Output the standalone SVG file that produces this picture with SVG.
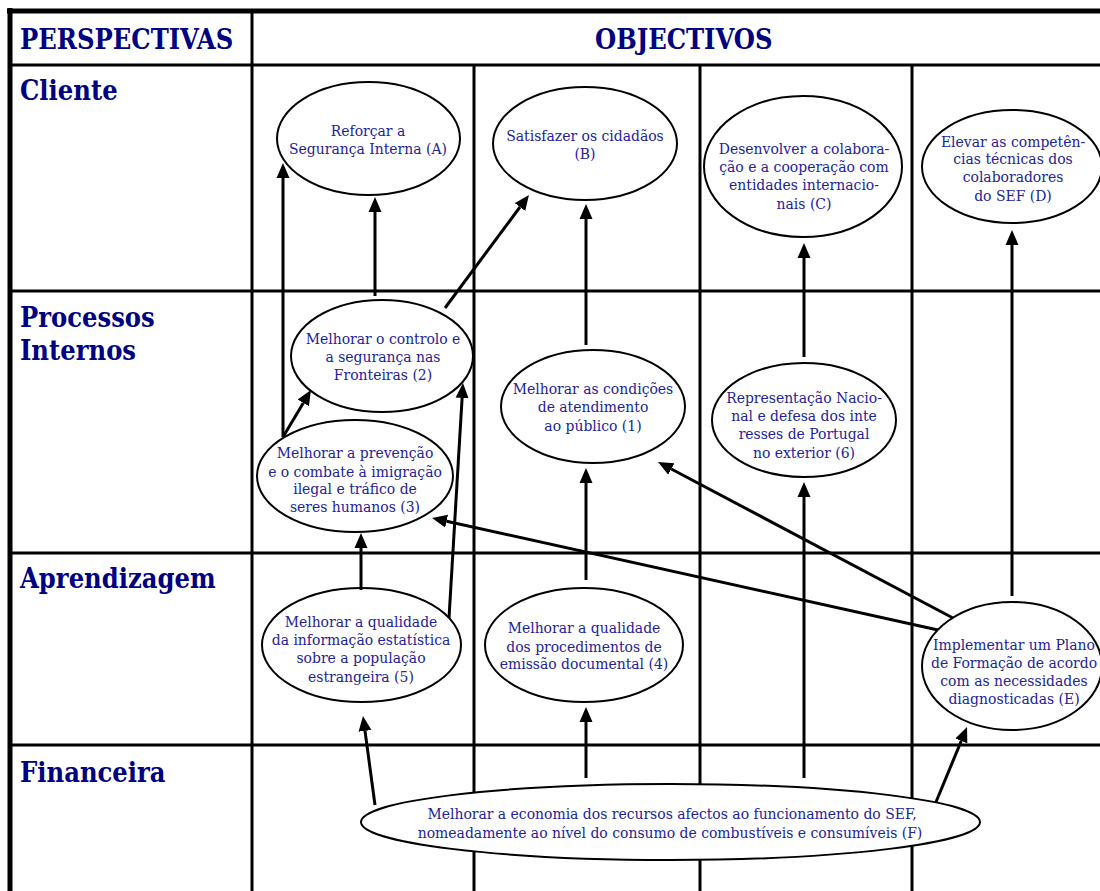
<svg xmlns="http://www.w3.org/2000/svg" width="1100" height="891" viewBox="0 0 1100 891">
<style>
.grid{stroke:#000;stroke-width:3;fill:none}
.border{stroke:#000;stroke-width:5;fill:none}
.node ellipse{fill:#fff;stroke:#000;stroke-width:2}
.node text{font-family:"DejaVu Serif Condensed","DejaVu Serif",serif;font-stretch:condensed;font-size:15.5px;fill:#22229a;text-anchor:middle}
.hd{font-family:"DejaVu Serif Condensed","DejaVu Serif",serif;font-stretch:condensed;font-weight:bold;font-size:27px;fill:#000080}
.conn line{stroke:#000;stroke-width:3;marker-end:url(#ah)}
</style>
<defs>
<marker id="ah" viewBox="0 -7 15 14" markerWidth="15" markerHeight="14" refX="0" refY="0" orient="auto" markerUnits="userSpaceOnUse">
<path d="M0,-6.5 L15,0 L0,6.5 z" fill="#000"/>
</marker>
</defs>
<rect width="1100" height="891" fill="#fff"/>
<g id="grid">
<line class="border" x1="7" y1="11" x2="1100" y2="11"/>
<line class="border" x1="10" y1="8" x2="10" y2="891"/>
<line class="grid" x1="10" y1="65" x2="1100" y2="65"/>
<line class="grid" x1="10" y1="291" x2="1100" y2="291"/>
<line class="grid" x1="10" y1="553" x2="1100" y2="553"/>
<line class="grid" x1="10" y1="745" x2="1100" y2="745"/>
<line class="grid" x1="252" y1="11" x2="252" y2="891"/>
<line class="grid" x1="474" y1="65" x2="474" y2="891"/>
<line class="grid" x1="700" y1="65" x2="700" y2="891"/>
<line class="grid" x1="912" y1="65" x2="912" y2="891"/>
</g>
<g id="labels">
<text class="hd" x="20" y="49">PERSPECTIVAS</text>
<text class="hd" x="595" y="49">OBJECTIVOS</text>
<text class="hd" x="20" y="100">Cliente</text>
<text class="hd" x="20" y="327">Processos</text>
<text class="hd" x="20" y="360">Internos</text>
<text class="hd" x="20" y="588">Aprendizagem</text>
<text class="hd" x="20" y="782">Financeira</text>
</g>
<g id="node-A" class="node">
<ellipse cx="368.5" cy="138.5" rx="91.5" ry="56.5"/>
<text x="368" y="136">Reforçar a</text>
<text x="368" y="154">Segurança Interna (A)</text>
</g>
<g id="node-B" class="node">
<ellipse cx="585" cy="143.5" rx="92" ry="56.5"/>
<text x="585" y="141">Satisfazer os cidadãos</text>
<text x="585" y="159">(B)</text>
</g>
<g id="node-C" class="node">
<ellipse cx="803" cy="166.5" rx="99" ry="70.5"/>
<text x="804" y="154">Desenvolver a colabora-</text>
<text x="804" y="172">ção e a cooperação com</text>
<text x="804" y="190">entidades internacio-</text>
<text x="804" y="209">nais (C)</text>
</g>
<g id="node-D" class="node">
<ellipse cx="1012" cy="166.5" rx="90" ry="56.5"/>
<text x="1013" y="147">Elevar as competên-</text>
<text x="1013" y="164">cias técnicas dos</text>
<text x="1013" y="182">colaboradores</text>
<text x="1013" y="201">do SEF (D)</text>
</g>
<g id="node-2" class="node">
<ellipse cx="382" cy="356" rx="91" ry="56"/>
<text x="383" y="344">Melhorar o controlo e</text>
<text x="383" y="362">a segurança nas</text>
<text x="383" y="380">Fronteiras (2)</text>
</g>
<g id="node-3" class="node">
<ellipse cx="355" cy="476" rx="98" ry="56"/>
<text x="355" y="458">Melhorar a prevenção</text>
<text x="355" y="477">e o combate à imigração</text>
<text x="355" y="494">ilegal e tráfico de</text>
<text x="355" y="512">seres humanos (3)</text>
</g>
<g id="node-1" class="node">
<ellipse cx="593" cy="406.5" rx="92" ry="56.5"/>
<text x="593" y="394">Melhorar as condições</text>
<text x="593" y="412">de atendimento</text>
<text x="593" y="431">ao público (1)</text>
</g>
<g id="node-6" class="node">
<ellipse cx="804" cy="420" rx="92" ry="57"/>
<text x="804" y="403">Representação Nacio-</text>
<text x="804" y="421">nal e defesa dos inte</text>
<text x="804" y="439">resses de Portugal</text>
<text x="804" y="458">no exterior (6)</text>
</g>
<g id="node-5" class="node">
<ellipse cx="361.5" cy="645" rx="99.5" ry="57"/>
<text x="361" y="627">Melhorar a qualidade</text>
<text x="361" y="645">da informação estatística</text>
<text x="361" y="663">sobre a população</text>
<text x="361" y="682">estrangeira (5)</text>
</g>
<g id="node-4" class="node">
<ellipse cx="584" cy="645" rx="99" ry="57"/>
<text x="584" y="633">Melhorar a qualidade</text>
<text x="584" y="652">dos procedimentos de</text>
<text x="584" y="669">emissão documental (4)</text>
</g>
<g id="node-E" class="node">
<ellipse cx="1012" cy="666" rx="90" ry="64"/>
<text x="1014" y="650">Implementar um Plano</text>
<text x="1014" y="668">de Formação de acordo</text>
<text x="1014" y="686">com as necessidades</text>
<text x="1014" y="704">diagnosticadas (E)</text>
</g>
<g id="node-F" class="node">
<ellipse cx="670.5" cy="822" rx="309.5" ry="38"/>
<text x="672" y="819">Melhorar a economia dos recursos afectos ao funcionamento do SEF,</text>
<text x="670" y="838">nomeadamente ao nível do consumo de combustíveis e consumíveis (F)</text>
</g>
<g id="connectors" class="conn">
<line x1="375" y1="296" x2="375" y2="212"/>
<line x1="283" y1="437" x2="283" y2="178"/>
<line x1="445" y1="308" x2="520" y2="207"/>
<line x1="586" y1="345" x2="586" y2="219"/>
<line x1="804" y1="357" x2="804" y2="258"/>
<line x1="1012" y1="596" x2="1012" y2="245"/>
<line x1="283" y1="437" x2="303.3" y2="402.9"/>
<line x1="449" y1="618" x2="462.1" y2="398"/>
<line x1="361" y1="590" x2="361" y2="548"/>
<line x1="586" y1="580" x2="586" y2="483"/>
<line x1="938" y1="630" x2="446.6" y2="521.2"/>
<line x1="953" y1="618" x2="671.3" y2="469"/>
<line x1="375" y1="805" x2="365" y2="730.9"/>
<line x1="586" y1="778" x2="586" y2="722"/>
<line x1="804" y1="778" x2="804" y2="497"/>
<line x1="936" y1="802" x2="961.3" y2="740.9"/>
</g>
</svg>
